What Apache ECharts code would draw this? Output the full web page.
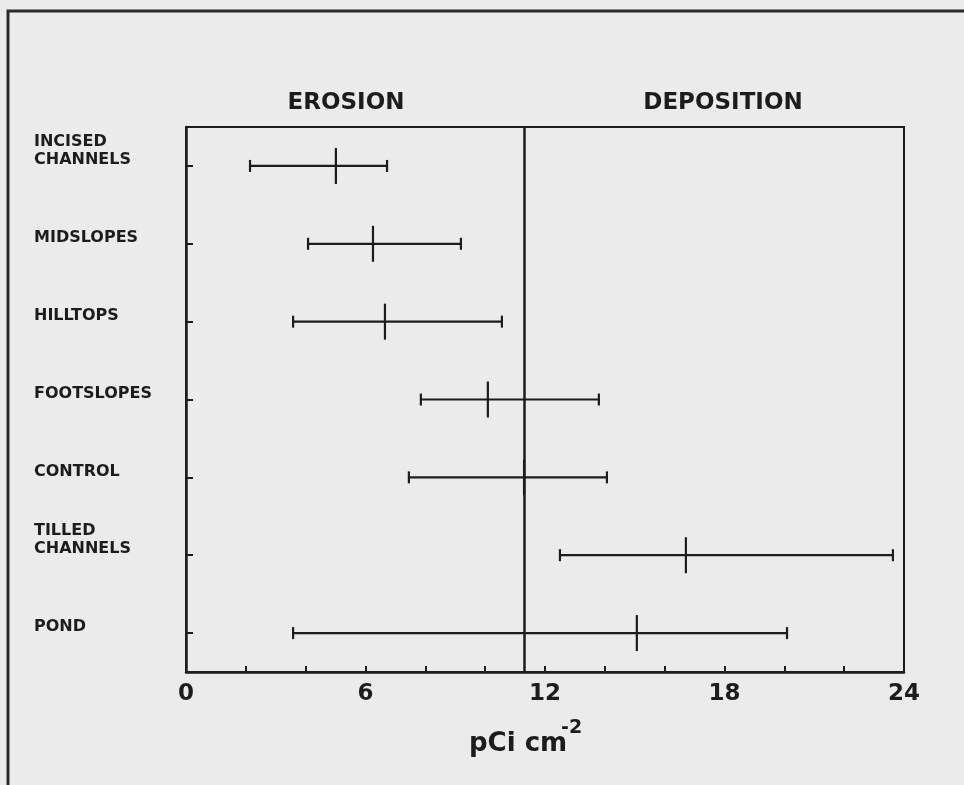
<!DOCTYPE html>
<html>
<head>
<meta charset="utf-8">
<script src="https://cdn.jsdelivr.net/npm/echarts@6/dist/echarts.min.js"></script>
<style>
html,body{margin:0;padding:0;background:#ebebeb;}
#chart{width:964px;height:785px;}
</style>
</head>
<body>
<div id="chart"></div>
<script>
// ---- data ----
var categories = ['INCISED\nCHANNELS', 'MIDSLOPES', 'HILLTOPS', 'FOOTSLOPES', 'CONTROL', 'TILLED\nCHANNELS', 'POND'];
var lowValues  = [2.14, 4.08, 3.58, 7.85, 7.45, 12.5, 3.58];
var meanValues = [5.01, 6.25, 6.65, 10.09, 11.3, 16.71, 15.07];
var highValues = [6.72, 9.19, 10.56, 13.8, 14.07, 23.63, 20.09];
var xTickLabels = ['0', '6', '12', '18', '24'];
var dividerValue = 11.3;
var sectionTitles = ['EROSION', 'DEPOSITION'];
var axisNameMain = 'pCi cm';
var axisNameSup = '-2';

var ink = '#1c1c1c';
var font = 'DejaVu Sans';

var rows = categories.map(function (c, i) {
  return [i, lowValues[i], meanValues[i], highValues[i]];
});

var chart = echarts.init(document.getElementById('chart'), null, {renderer: 'canvas'});

function renderBar(params, api) {
  var cat = api.value(0);
  var pLow = api.coord([api.value(1), cat]);
  var pMean = api.coord([api.value(2), cat]);
  var pHigh = api.coord([api.value(3), cat]);
  var st = {stroke: ink, lineWidth: 2.2};
  var cap = 6, mh = 18;
  return {
    type: 'group',
    children: [
      {type: 'line', shape: {x1: pLow[0], y1: pLow[1], x2: pHigh[0], y2: pHigh[1]}, style: st},
      {type: 'line', shape: {x1: pLow[0], y1: pLow[1] - cap, x2: pLow[0], y2: pLow[1] + cap}, style: st},
      {type: 'line', shape: {x1: pHigh[0], y1: pHigh[1] - cap, x2: pHigh[0], y2: pHigh[1] + cap}, style: st},
      {type: 'line', shape: {x1: pMean[0], y1: pMean[1] - mh, x2: pMean[0], y2: pMean[1] + mh}, style: st}
    ]
  };
}

var option = {
  backgroundColor: '#ebebeb',
  animation: false,
  grid: {left: 186, top: 127, width: 718, height: 545, show: true, borderColor: ink, borderWidth: 2, backgroundColor: 'transparent'},
  xAxis: {
    type: 'value', min: 0, max: 24, interval: 2,
    axisLine: {show: true, onZero: false, lineStyle: {color: ink, width: 2.5}},
    axisTick: {show: true, inside: true, length: 6, lineStyle: {color: ink, width: 2}},
    splitLine: {show: false},
    axisLabel: {
      margin: 11, color: ink, fontFamily: font, fontWeight: 'bold', fontSize: 23,
      formatter: function (v) {
        var idx = xTickLabels.indexOf(String(v));
        return idx >= 0 ? xTickLabels[idx] : '';
      }
    }
  },
  yAxis: {
    type: 'category', data: categories, inverse: true,
    axisLine: {show: true, lineStyle: {color: ink, width: 2.5}},
    axisTick: {show: true, inside: true, alignWithLabel: true, length: 7, lineStyle: {color: ink, width: 2}},
    splitLine: {show: false},
    axisLabel: {
      align: 'left', verticalAlign: 'bottom', margin: 152, lineHeight: 18,
      padding: [0, 0, -3, 0],
      color: ink, fontFamily: font, fontWeight: 'bold', fontSize: 16
    }
  },
  series: [{
    type: 'custom',
    renderItem: renderBar,
    data: rows,
    encode: {x: [1, 2, 3], y: 0},
    markLine: {
      silent: true, symbol: ['none', 'none'], label: {show: false},
      lineStyle: {color: ink, width: 2.5, type: 'solid'},
      data: [{xAxis: dividerValue}]
    }
  }],
  graphic: [
    {type: 'polyline', silent: true, shape: {points: [[8, 790], [8, 11], [970, 11]]}, style: {stroke: '#2a2a2a', lineWidth: 3, fill: null}},
    {type: 'text', x: 346, y: 103, style: {text: sectionTitles[0], fill: ink, font: 'bold 23px "DejaVu Sans"', textAlign: 'center', textVerticalAlign: 'middle'}},
    {type: 'text', x: 723, y: 103, style: {text: sectionTitles[1], fill: ink, font: 'bold 23px "DejaVu Sans"', textAlign: 'center', textVerticalAlign: 'middle'}},
    {type: 'text', x: 469, y: 744, style: {text: axisNameMain, fill: ink, font: 'bold 26px "DejaVu Sans"', textAlign: 'left', textVerticalAlign: 'middle'}},
    {type: 'text', x: 561, y: 728, style: {text: axisNameSup, fill: ink, font: 'bold 19px "DejaVu Sans"', textAlign: 'left', textVerticalAlign: 'middle'}}
  ]
};
chart.setOption(option);
</script>
</body>
</html>
